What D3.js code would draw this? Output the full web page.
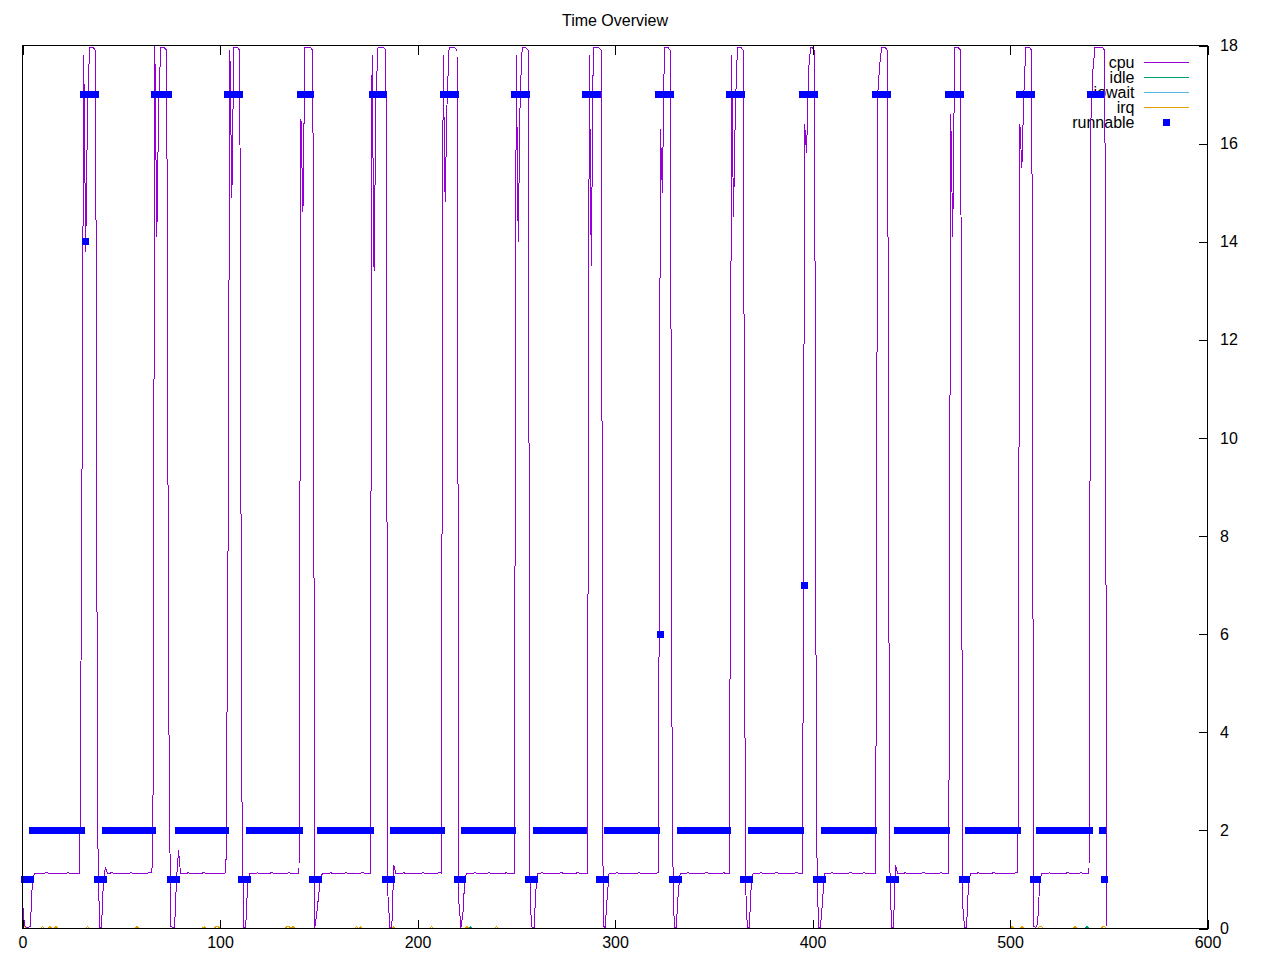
<!DOCTYPE html>
<html><head><meta charset="utf-8">
<script src="https://cdn.jsdelivr.net/npm/d3@7"></script>
<style>
body{margin:0;background:#fff}
svg{display:block}
text{font-family:"Liberation Sans",Arial,sans-serif;font-size:16px;fill:#000}
</style>
</head><body><svg id="c" width="1280" height="960"></svg>
<script>
const title = "Time Overview";
const seriesNames = ["cpu", "idle", "iowait", "irq", "runnable"];
const seriesColors = ["#9400d3", "#009e73", "#56b4e9", "#e69f00", "#0000ff"];
const xTicks = [0, 100, 200, 300, 400, 500, 600];
const yTicks = [0, 2, 4, 6, 8, 10, 12, 14, 16, 18];

// cpu, one value per second (t = index)
const cpu = [
0.56,0.05,0.02,0.02,0.05,0.95,1.13,1.12,1.13,1.12,
1.13,1.12,1.14,1.13,1.12,1.12,1.13,1.12,1.11,1.13,
1.12,1.13,1.12,1.14,1.12,1.13,1.12,1.13,1.12,1.13,
8.0,17.8,13.8,16.9,17.95,17.95,17.95,17.9,2.1,0.02,
0.02,1.0,1.25,1.13,1.12,1.14,1.13,1.12,1.13,1.12,
1.13,1.12,1.12,1.13,1.12,1.14,1.12,1.13,1.12,1.12,
1.13,1.12,1.13,1.12,1.14,1.13,1.3,17.98,14.1,16.9,
17.95,17.95,17.95,17.9,4.8,0.05,0.02,0.02,1.0,1.6,
1.13,1.12,1.13,1.12,1.14,1.12,1.13,1.12,1.13,1.12,
1.12,1.13,1.14,1.12,1.13,1.12,1.13,1.12,1.12,1.13,
1.12,1.13,1.12,1.14,7.0,17.9,14.9,17.95,17.95,17.95,
17.9,3.0,0.02,0.02,0.9,1.13,1.12,1.13,1.12,1.14,
1.12,1.13,1.12,1.12,1.13,1.12,1.14,1.13,1.12,1.13,
1.12,1.13,1.12,1.13,1.12,1.14,1.12,1.13,1.12,1.13,
1.13,16.5,14.6,17.95,17.95,17.95,17.95,17.9,0.02,0.3,
0.7,1.05,1.13,1.12,1.13,1.12,1.14,1.12,1.13,1.12,
1.13,1.12,1.12,1.13,1.14,1.12,1.13,1.12,1.13,1.12,
1.13,1.12,1.14,1.13,1.12,1.13,1.13,17.8,13.4,17.0,
17.95,17.95,17.95,17.95,17.9,0.7,0.02,0.02,1.3,1.13,
1.12,1.13,1.12,1.14,1.12,1.13,1.12,1.13,1.12,1.12,
1.13,1.12,1.13,1.14,1.12,1.13,1.12,1.13,1.12,1.13,
1.12,1.14,1.13,17.8,14.8,16.9,17.95,17.95,17.95,17.95,
17.9,0.5,0.02,0.3,1.05,1.13,1.12,1.13,1.12,1.14,
1.12,1.13,1.12,1.12,1.13,1.12,1.14,1.13,1.12,1.13,
1.12,1.13,1.12,1.13,1.12,1.14,1.12,1.13,1.12,1.13,
17.8,14.0,17.0,17.95,17.95,17.95,17.9,0.5,0.02,0.02,
0.8,1.13,1.12,1.14,1.12,1.13,1.12,1.13,1.12,1.12,
1.13,1.12,1.13,1.14,1.12,1.13,1.12,1.13,1.12,1.13,
1.12,1.14,1.13,1.12,1.13,1.12,1.13,17.8,13.5,17.95,
17.95,17.95,17.95,17.9,0.05,0.02,0.6,1.13,1.12,1.13,
1.12,1.14,1.12,1.13,1.12,1.13,1.12,1.12,1.13,1.12,
1.13,1.12,1.14,1.13,1.12,1.13,1.12,1.13,1.12,1.13,
1.12,1.13,1.14,16.3,15.0,17.95,17.95,17.95,17.9,2.0,
0.02,0.02,0.7,1.13,1.12,1.13,1.12,1.14,1.12,1.13,
1.12,1.13,1.12,1.12,1.13,1.12,1.14,1.13,1.12,1.13,
1.12,1.13,1.12,1.13,1.12,1.14,1.12,1.13,1.12,17.8,
14.5,16.8,17.95,17.95,17.95,17.9,1.0,0.02,0.02,0.9,
1.13,1.12,1.13,1.12,1.14,1.12,1.13,1.12,1.13,1.12,
1.12,1.13,1.14,1.12,1.13,1.12,1.13,1.12,1.12,1.13,
1.12,1.13,1.14,1.13,1.12,1.13,16.4,15.8,17.5,17.95,
17.95,17.9,2.0,0.02,0.02,0.5,1.13,1.12,1.13,1.12,
1.14,1.12,1.13,1.12,1.13,1.12,1.12,1.13,1.12,1.14,
1.13,1.12,1.13,1.12,1.13,1.12,1.14,1.12,1.13,1.12,
1.13,1.12,1.13,17.0,17.6,17.95,17.95,17.95,17.9,1.5,
0.02,0.02,1.3,1.13,1.12,1.13,1.12,1.14,1.12,1.13,
1.12,1.13,1.12,1.12,1.13,1.12,1.14,1.13,1.12,1.13,
1.12,1.13,1.12,1.13,1.12,1.14,1.12,1.13,1.12,1.13,
16.6,14.1,17.95,17.95,17.95,17.9,0.5,0.02,0.02,0.9,
1.13,1.12,1.13,1.12,1.14,1.12,1.13,1.12,1.13,1.12,
1.12,1.13,1.14,1.12,1.13,1.12,1.13,1.12,1.12,1.13,
1.12,1.13,1.12,1.14,1.13,16.4,15.5,17.0,17.95,17.95,
17.95,17.9,0.05,0.02,0.1,0.9,1.13,1.12,1.13,1.12,
1.14,1.12,1.13,1.12,1.13,1.12,1.12,1.13,1.12,1.14,
1.13,1.12,1.13,1.12,1.13,1.12,1.14,1.12,1.13,1.12,
1.13,16.5,17.5,17.95,17.95,17.95,17.95,17.95,17.9,0.05
];

// runnable, one value per second (t = index); null = no sample
const runnable = [
null,1,1,1,1,2,2,2,2,2,
2,2,2,2,2,2,2,2,2,2,
2,2,2,2,2,2,2,2,2,2,
2,17,14,17,17,17,17,17,1,1,
1,1,2,2,2,2,2,2,2,2,
2,2,2,2,2,2,2,2,2,2,
2,2,2,2,2,2,2,17,17,17,
17,17,17,17,17,1,1,1,1,2,
2,2,2,2,2,2,2,2,2,2,
2,2,2,2,2,2,2,2,2,2,
2,2,2,2,17,17,17,17,17,17,
17,1,1,1,1,2,2,2,2,2,
2,2,2,2,2,2,2,2,2,2,
2,2,2,2,2,2,2,2,2,2,
2,17,17,17,17,17,17,1,1,1,
1,2,2,2,2,2,2,2,2,2,
2,2,2,2,2,2,2,2,2,2,
2,2,2,2,2,2,2,17,17,17,
17,17,17,17,1,1,1,1,2,2,
2,2,2,2,2,2,2,2,2,2,
2,2,2,2,2,2,2,2,2,2,
2,2,2,17,17,17,17,17,17,17,
1,1,1,1,2,2,2,2,2,2,
2,2,2,2,2,2,2,2,2,2,
2,2,2,2,2,2,2,2,2,17,
17,17,17,17,17,17,1,1,1,1,
2,2,2,2,2,2,2,2,2,2,
2,2,2,2,2,2,2,2,2,2,
2,2,2,2,2,17,17,17,17,17,
17,17,1,1,1,1,2,2,2,2,
2,2,2,2,2,2,2,2,2,2,
2,2,2,2,2,2,2,2,2,2,
2,2,17,6,17,17,17,17,17,1,
1,1,1,2,2,2,2,2,2,2,
2,2,2,2,2,2,2,2,2,2,
2,2,2,2,2,2,2,2,17,17,
17,17,17,17,17,1,1,1,1,2,
2,2,2,2,2,2,2,2,2,2,
2,2,2,2,2,2,2,2,2,2,
2,2,2,2,2,17,7,17,17,17,
17,17,1,1,1,1,2,2,2,2,
2,2,2,2,2,2,2,2,2,2,
2,2,2,2,2,2,2,2,2,2,
2,2,17,17,17,17,17,17,17,1,
1,1,1,2,2,2,2,2,2,2,
2,2,2,2,2,2,2,2,2,2,
2,2,2,2,2,2,2,2,2,17,
17,17,17,17,17,17,1,1,1,2,
2,2,2,2,2,2,2,2,2,2,
2,2,2,2,2,2,2,2,2,2,
2,2,2,2,2,17,17,17,17,17,
17,17,1,1,1,2,2,2,2,2,
2,2,2,2,2,2,2,2,2,2,
2,2,2,2,2,2,2,2,2,2,
2,17,17,17,17,17,17,2,1
];

// sparse non-zero samples of the near-zero series: [time, value]
const idleSamples = [[227, 0.04], [539, 0.04]];
const iowaitSamples = [];
const irqSamples = [[1,0.04],[10,0.04],[14,0.04],[17,0.04],[33,0.04],[58,0.04],[92,0.04],[98,0.04],[99,0.04],
  [134,0.04],[135,0.04],[137,0.04],[169,0.04],[171,0.04],[188,0.04],[207,0.04],[225,0.04],[240,0.04],
  [501,0.04],[506,0.04],[515,0.04],[516,0.04],[533,0.04],[547,0.04],[548,0.04]];

// ---------- drawing ----------
const W = 1280, H = 960;
const L = 22.5, R = 1207.5, T = 45.5, B = 928.5;
const svg = d3.select("#c");
const x = d3.scaleLinear().domain([0, 600]).range([L, R]);
const y = d3.scaleLinear().domain([0, 18]).range([B, T]);

svg.append("rect").attr("width", W).attr("height", H).attr("fill", "#fff");

// title
svg.append("text").attr("x", 615).attr("y", 26).attr("text-anchor", "middle").text(title);

// legend (drawn before data, like the reference)
const lg = svg.append("g");
seriesNames.forEach((name, i) => {
  const ly = 62.5 + i * 15;
  lg.append("text").attr("x", 1134.5).attr("y", ly).attr("dy", "0.32em")
    .attr("text-anchor", "end").text(name);
  if (name === "runnable") {
    lg.append("rect").attr("x", 1166.5 - 3.5).attr("y", ly - 3.5).attr("width", 7).attr("height", 7)
      .attr("fill", seriesColors[i]).attr("shape-rendering", "crispEdges");
  } else {
    lg.append("line").attr("x1", 1144).attr("x2", 1189).attr("y1", ly).attr("y2", ly)
      .attr("stroke", seriesColors[i]).attr("stroke-width", 1).attr("shape-rendering", "crispEdges");
  }
});

const n = cpu.length;
function fromSamples(samples) {
  const m = new Map(samples);
  return Array.from({length: n}, (_, i) => m.has(i) ? m.get(i) : 0);
}
const idle = fromSamples(idleSamples);
const iowait = fromSamples(iowaitSamples);
const irq = fromSamples(irqSamples);

const line = d3.line().x((d, i) => x(i)).y(d => y(d));
const plot = svg.append("g");
[[cpu, 0], [idle, 1], [iowait, 2], [irq, 3]].forEach(([data, ci]) => {
  plot.append("path").datum(data).attr("d", line)
    .attr("fill", "none").attr("stroke", seriesColors[ci]).attr("stroke-width", 1)
    .attr("shape-rendering", "crispEdges");
});

// runnable squares
const pts = runnable.map((v, i) => [i, v]).filter(d => d[1] !== null);
plot.append("g").selectAll("rect").data(pts).join("rect")
  .attr("x", d => x(d[0]) - 3.5).attr("y", d => y(d[1]) - 3.5)
  .attr("width", 7).attr("height", 7).attr("fill", seriesColors[4])
  .attr("shape-rendering", "crispEdges");

// axes (front)
function styleAxis(g) {
  g.select(".domain").remove();
  g.attr("font-family", null).attr("font-size", null);
  g.selectAll("line").attr("stroke", "#000").attr("shape-rendering", "crispEdges");
  g.selectAll("text").attr("fill", "#000").style("font-size", "16px");
}
svg.append("g").attr("transform", `translate(0,${B})`)
  .call(d3.axisBottom(x).tickValues(xTicks).tickFormat(d3.format("d")).tickSizeInner(-9).tickSizeOuter(0).tickPadding(8))
  .call(styleAxis);
svg.append("g").attr("transform", `translate(0,${T})`)
  .call(d3.axisTop(x).tickValues(xTicks).tickFormat("").tickSizeInner(-9).tickSizeOuter(0))
  .call(styleAxis);
svg.append("g").attr("transform", `translate(${R},0)`)
  .call(d3.axisRight(y).tickValues(yTicks).tickFormat(d3.format("d")).tickSizeInner(-9).tickSizeOuter(0).tickPadding(12.5))
  .call(styleAxis);

// border
svg.append("rect").attr("x", L).attr("y", T).attr("width", R - L).attr("height", B - T)
  .attr("fill", "none").attr("stroke", "#000").attr("stroke-width", 1)
  .attr("shape-rendering", "crispEdges");
</script>
</body></html>
